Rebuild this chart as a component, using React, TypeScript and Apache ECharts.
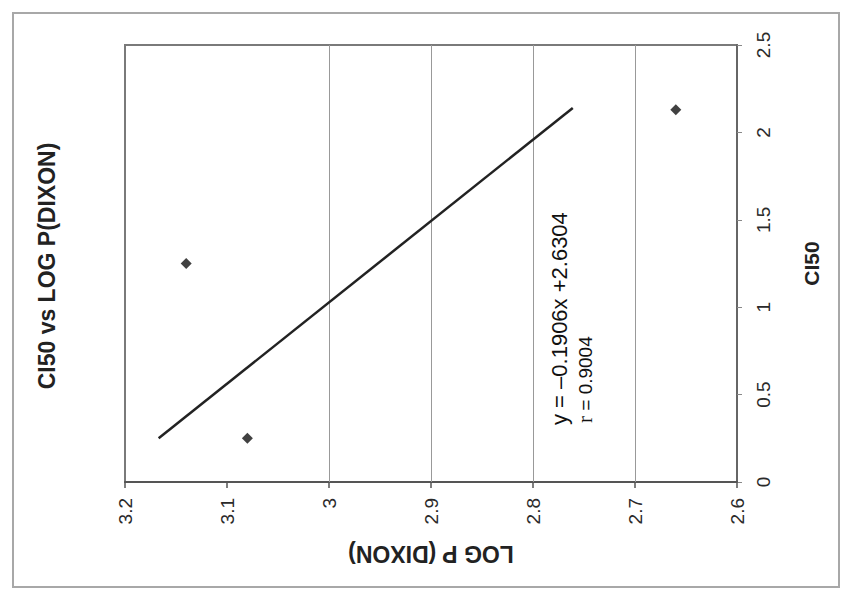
import React, { useEffect, useRef } from "react";
import * as echarts from "echarts";

// Data read from the (rotated) reference chart
const logP = [3.14, 3.08, 2.66];
const ci50 = [1.25, 0.25, 2.13];
const fitLogP = [3.167, 2.761];
const fitCi50 = [0.25, 2.14];
const gridLogP = [3.0, 2.9, 2.8, 2.7];
const titleText = "CI50 vs LOG P(DIXON)";
const xName = "LOG P (DIXON)";
const yName = "CI50";
const eqLine1 = "y = \u20130.1906x +2.6304";
const eqLine2 = "0.9004";

const FONT = "'Liberation Sans', Arial, sans-serif";

export default function App() {
  const ref = useRef<HTMLDivElement>(null);
  useEffect(() => {
    if (!ref.current) return;
    const chart = echarts.init(ref.current, undefined, { renderer: "svg" });
    const fmt = (v: number) => String(parseFloat(v.toFixed(1)));
    chart.setOption({
      animation: false,
      backgroundColor: "#ffffff",
      textStyle: { fontFamily: FONT },
      grid: {
        left: 125,
        right: 104,
        top: 45,
        bottom: 107,
        show: true,
        borderColor: "#7a7a7a",
        borderWidth: 2,
        backgroundColor: "transparent",
      },
      xAxis: {
        type: "value",
        inverse: true,
        min: 2.6,
        max: 3.2,
        interval: 0.1,
        position: "bottom",
        axisLine: { show: true, onZero: false, lineStyle: { color: "#555", width: 2 } },
        axisTick: { show: true, length: 6, lineStyle: { color: "#555", width: 1.5 } },
        axisLabel: {
          rotate: 90,
          fontSize: 19,
          color: "#2a2a2a",
          margin: 16,
          fontFamily: FONT,
          formatter: fmt,
        },
        splitLine: { show: false },
        name: xName,
        nameLocation: "middle",
        nameRotate: 180,
        nameGap: 60,
        nameTextStyle: { fontSize: 23, fontWeight: "bold", color: "#222", fontFamily: FONT },
      },
      yAxis: {
        type: "value",
        min: 0,
        max: 2.5,
        interval: 0.5,
        position: "right",
        axisLine: { show: true, lineStyle: { color: "#666", width: 2 } },
        axisTick: { show: true, length: 5, lineStyle: { color: "#888", width: 1 } },
        axisLabel: {
          rotate: 90,
          fontSize: 19,
          color: "#2a2a2a",
          margin: 17,
          fontFamily: FONT,
          formatter: fmt,
        },
        splitLine: { show: false },
        name: yName,
        nameLocation: "middle",
        nameRotate: 90,
        nameGap: 64,
        nameTextStyle: { fontSize: 21, fontWeight: "bold", color: "#222", fontFamily: FONT },
      },
      series: [
        {
          type: "line",
          data: fitLogP.map((x, i) => [x, fitCi50[i]]),
          symbol: "none",
          lineStyle: { color: "#222", width: 2.5 },
          silent: true,
          z: 3,
          markLine: {
            silent: true,
            symbol: ["none", "none"],
            label: { show: false },
            lineStyle: { color: "#999", width: 1, type: "solid" },
            data: gridLogP.map((v) => ({ xAxis: v })),
            z: 1,
          },
        },
        {
          type: "scatter",
          data: logP.map((x, i) => [x, ci50[i]]),
          symbol: "diamond",
          symbolSize: [11, 11],
          itemStyle: { color: "#111" },
          z: 4,
        },
      ],
      graphic: [
        {
          type: "rect",
          shape: { x: 13, y: 13, width: 826, height: 574 },
          style: { fill: "none", stroke: "#a8a8a8", lineWidth: 2 },
          silent: true,
        },
        {
          type: "text",
          x: 47,
          y: 266,
          rotation: Math.PI / 2,
          style: {
            text: titleText,
            font: `bold 23px ${FONT}`,
            fill: "#222",
            align: "center",
            verticalAlign: "middle",
          },
        },
        {
          type: "text",
          x: 559,
          y: 425,
          rotation: Math.PI / 2,
          style: {
            text: eqLine1,
            font: `22px ${FONT}`,
            fill: "#111",
            align: "left",
            verticalAlign: "middle",
          },
        },
        {
          type: "text",
          x: 585,
          y: 423,
          rotation: Math.PI / 2,
          style: {
            text: `{r|r} = ${eqLine2}`,
            font: `19px ${FONT}`,
            fill: "#111",
            align: "left",
            verticalAlign: "middle",
            rich: {
              r: { fontFamily: "'Liberation Serif', 'Times New Roman', serif", fontSize: 21, fill: "#111" },
            },
          },
        },
      ],
    });
    return () => chart.dispose();
  }, []);
  return (
    <div
      ref={ref}
      style={{ position: "fixed", left: 0, top: 0, width: 841, height: 589 }}
    />
  );
}
